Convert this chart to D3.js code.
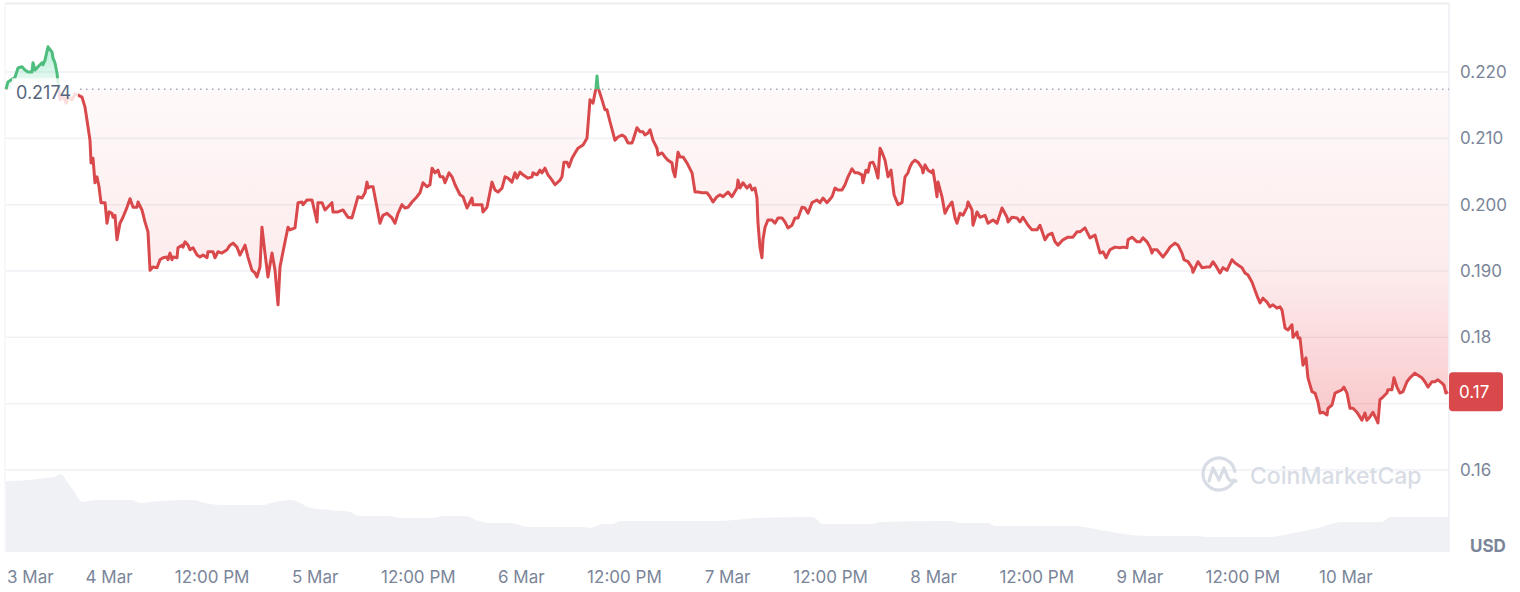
<!DOCTYPE html>
<html><head><meta charset="utf-8">
<script src="https://cdn.jsdelivr.net/npm/d3@7"></script>
<style>
html,body{margin:0;padding:0;background:#fff;}
svg{display:block;font-family:Inter,"Noto Sans",sans-serif;}
</style></head><body>
<svg id="chart" width="1520" height="592"></svg>
<script>
// ---------- data ----------
const startTime = "2025-03-03T12:00:00Z";
const endTime = "2025-03-10T12:00:00Z";
const referencePrice = 0.2174;
const currency = "USD";
const watermark = "CoinMarketCap";

const hoursFromStart = [0,0.23,1.05,1.40,1.86,2.21,2.56,3.03,3.14,3.38,3.73,4.19,4.31,4.54,4.89,5.36,5.47,5.70,5.94,6.29,6.64,6.99,7.33,7.68,8.03,8.38,8.85,9.20,9.55,9.78,9.90,10.13,10.36,10.59,10.83,11.06,11.53,11.76,11.99,12.34,12.46,12.69,12.92,13.27,13.62,14.09,14.44,14.79,15.25,15.37,15.83,16.18,16.53,16.77,17.11,17.58,17.93,18.28,18.74,18.86,19.09,19.33,19.44,19.91,20.02,20.49,20.61,20.84,21.19,21.42,21.77,22.24,22.59,22.94,23.40,23.52,24.10,24.33,24.68,25.15,25.73,26.08,26.43,26.89,27.24,27.83,28.17,28.64,28.99,29.22,29.57,29.80,30.15,30.50,30.97,31.32,31.67,31.90,32.25,32.83,33.06,33.65,34.00,34.46,34.58,35.04,35.63,36.21,36.32,36.79,37.14,37.95,38.07,38.65,39.23,39.82,40.28,40.63,40.98,41.45,41.80,42.03,42.15,42.38,42.73,43.19,43.54,43.89,44.36,44.94,45.29,45.64,46.10,46.45,46.80,47.27,47.85,48.20,48.55,49.01,49.36,49.60,49.95,50.30,50.53,50.88,51.11,51.58,51.93,52.28,52.86,53.21,53.67,54.25,54.37,54.95,55.42,55.53,56.00,56.58,56.93,57.28,57.75,58.10,58.44,58.91,59.26,59.49,59.84,60.19,60.77,61.24,61.35,61.82,62.17,62.40,62.75,63.10,63.57,63.92,64.50,64.73,64.96,65.31,65.55,65.90,66.25,66.59,67.18,67.64,67.99,68.23,68.34,68.69,68.81,68.92,69.39,69.74,69.97,70.32,70.90,71.25,71.72,72.07,72.42,72.88,73.00,73.46,73.81,74.16,74.39,74.74,74.98,75.33,75.79,75.91,76.37,76.72,77.07,77.54,77.65,77.89,78.24,78.47,78.82,79.28,79.87,80.22,80.57,81.03,81.61,81.96,82.31,82.78,83.13,83.48,84.06,84.52,85.11,85.22,85.46,85.80,86.27,86.62,86.85,87.20,87.43,87.55,87.78,88.01,88.13,88.37,88.71,89.18,89.53,89.88,90.34,90.69,91.04,91.51,91.86,92.21,92.67,93.02,93.37,93.84,94.42,94.77,95.12,95.58,96.17,96.52,96.86,97.33,97.68,98.03,98.49,98.84,99.19,99.66,99.77,100.12,100.36,100.59,100.94,101.17,101.52,101.76,101.99,102.34,102.69,103.04,103.39,103.85,104.32,104.67,105.01,105.25,105.48,105.83,106.18,106.65,106.76,107.00,107.35,107.81,107.93,108.16,108.39,108.51,108.97,109.32,109.67,110.14,110.49,110.72,111.07,111.42,111.88,112.00,112.47,112.58,113.05,113.40,113.98,114.33,114.91,115.38,115.96,116.54,116.66,117.12,117.71,118.05,118.40,118.99,119.45,120.03,120.38,120.96,121.31,121.78,122.13,122.48,123.06,123.64,124.22,124.69,125.04,125.62,126.20,126.79,127.37,127.72,128.07,128.53,129.11,129.70,130.05,130.51,130.63,131.09,131.68,132.03,132.37,132.84,133.19,133.42,133.54,134.00,134.70,135.17,135.52,136.10,136.45,136.91,137.15,137.61,138.08,138.19,138.78,139.24,139.83,140.17,140.52,140.99,141.34,141.69,142.15,142.74,143.09,143.43,143.90,144.25,144.60,145.07,145.41,145.76,146.00,146.34,146.81,147.16,147.51,147.97,148.32,148.56,148.91,149.25,149.72,149.84,150.30,150.42,150.65,151.00,151.35,151.58,152.05,152.40,152.75,152.98,153.33,153.80,153.91,154.38,154.73,155.08,155.54,155.77,156.12,156.47,156.82,157.28,157.63,157.86,158.21,158.44,158.79,159.14,159.49,159.73,159.96,160.31,160.77,160.89,161.36,161.59,161.94,162.29,162.64,163.10,163.45,164.03,164.38,164.85,165.20,165.55,166.01,166.36,166.71,167.18,167.41,167.64,167.88];

const priceUSD = [0.2174,0.2185,0.2192,0.2206,0.2208,0.2203,0.2200,0.2200,0.2214,0.2203,0.2208,0.2214,0.2211,0.2218,0.2238,0.2230,0.2221,0.2214,0.2198,0.2158,0.2165,0.2153,0.2162,0.2158,0.2167,0.2165,0.2162,0.2147,0.2117,0.2097,0.2063,0.2070,0.2033,0.2042,0.2027,0.2003,0.2003,0.1972,0.1989,0.1987,0.1981,0.1984,0.1947,0.1972,0.1981,0.1996,0.2009,0.1996,0.1996,0.2004,0.1992,0.1974,0.1959,0.1901,0.1906,0.1905,0.1917,0.1920,0.1921,0.1917,0.1927,0.1917,0.1921,0.1920,0.1935,0.1939,0.1936,0.1944,0.1939,0.1932,0.1935,0.1924,0.1921,0.1924,0.1920,0.1929,0.1929,0.1920,0.1929,0.1927,0.1932,0.1939,0.1942,0.1936,0.1924,0.1939,0.1921,0.1901,0.1897,0.1891,0.1906,0.1966,0.1927,0.1891,0.1927,0.1901,0.1849,0.1906,0.1929,0.1966,0.1962,0.1965,0.2003,0.2004,0.2000,0.2007,0.2007,0.1974,0.2003,0.2003,0.1992,0.2003,0.1989,0.1989,0.1992,0.1981,0.1980,0.1996,0.2012,0.2010,0.2018,0.2034,0.2025,0.2027,0.2027,0.1996,0.1972,0.1984,0.1987,0.1980,0.1972,0.1987,0.2000,0.1995,0.1996,0.2004,0.2012,0.2018,0.2033,0.2027,0.2030,0.2055,0.2048,0.2052,0.2042,0.2042,0.2033,0.2048,0.2042,0.2030,0.2015,0.2012,0.1995,0.2010,0.2000,0.2000,0.2000,0.1989,0.1996,0.2034,0.2022,0.2019,0.2025,0.2042,0.2040,0.2034,0.2048,0.2040,0.2049,0.2045,0.2040,0.2042,0.2048,0.2045,0.2052,0.2048,0.2055,0.2045,0.2037,0.2030,0.2037,0.2042,0.2064,0.2064,0.2057,0.2070,0.2078,0.2085,0.2090,0.2100,0.2158,0.2155,0.2153,0.2176,0.2194,0.2177,0.2158,0.2143,0.2143,0.2125,0.2097,0.2102,0.2105,0.2102,0.2093,0.2093,0.2097,0.2116,0.2110,0.2110,0.2105,0.2108,0.2113,0.2097,0.2085,0.2075,0.2078,0.2072,0.2067,0.2063,0.2052,0.2042,0.2079,0.2072,0.2072,0.2063,0.2048,0.2019,0.2019,0.2018,0.2018,0.2012,0.2004,0.2012,0.2015,0.2012,0.2019,0.2012,0.2025,0.2037,0.2025,0.2033,0.2025,0.2030,0.2022,0.2025,0.2010,0.1972,0.1936,0.1920,0.1947,0.1966,0.1977,0.1977,0.1972,0.1980,0.1980,0.1974,0.1965,0.1969,0.1980,0.1980,0.1996,0.1995,0.1987,0.2003,0.2007,0.2003,0.2010,0.2003,0.2012,0.2025,0.2022,0.2022,0.2030,0.2042,0.2054,0.2048,0.2048,0.2045,0.2033,0.2052,0.2049,0.2063,0.2064,0.2057,0.2040,0.2085,0.2079,0.2067,0.2042,0.2052,0.2015,0.2000,0.2003,0.2042,0.2048,0.2057,0.2063,0.2067,0.2064,0.2055,0.2048,0.2060,0.2052,0.2048,0.2052,0.2033,0.2012,0.2034,0.2012,0.1987,0.1996,0.2004,0.1980,0.1972,0.1987,0.1984,0.1996,0.2004,0.1992,0.1969,0.1989,0.1981,0.1984,0.1972,0.1977,0.1972,0.1995,0.1981,0.1974,0.1981,0.1980,0.1974,0.1981,0.1969,0.1962,0.1962,0.1969,0.1947,0.1954,0.1957,0.1944,0.1939,0.1947,0.1951,0.1951,0.1959,0.1959,0.1965,0.1950,0.1954,0.1927,0.1929,0.1920,0.1932,0.1936,0.1935,0.1936,0.1935,0.1947,0.1951,0.1944,0.1944,0.1950,0.1944,0.1936,0.1927,0.1932,0.1932,0.1921,0.1929,0.1936,0.1942,0.1939,0.1927,0.1917,0.1914,0.1905,0.1898,0.1914,0.1905,0.1906,0.1906,0.1914,0.1905,0.1897,0.1905,0.1901,0.1917,0.1912,0.1909,0.1905,0.1897,0.1894,0.1883,0.1871,0.1859,0.1852,0.1859,0.1853,0.1846,0.1849,0.1844,0.1846,0.1841,0.1814,0.1811,0.1819,0.1800,0.1808,0.1799,0.1799,0.1758,0.1769,0.1739,0.1718,0.1716,0.1702,0.1686,0.1687,0.1683,0.1693,0.1698,0.1716,0.1718,0.1721,0.1725,0.1716,0.1693,0.1693,0.1687,0.1680,0.1675,0.1686,0.1675,0.1680,0.1687,0.1678,0.1671,0.1706,0.1710,0.1716,0.1721,0.1721,0.1739,0.1725,0.1716,0.1718,0.1733,0.1739,0.1746,0.1743,0.1739,0.1733,0.1725,0.1733,0.1733,0.1736,0.1731,0.1728,0.1716,0.1718];

const volumeHours = [0,2.79,4.54,5.70,6.40,6.99,7.80,8.96,10.36,14.55,15.72,16.77,21.89,23.05,25.26,29.80,31.32,33.18,35.51,37.72,40.05,41.10,44.47,45.87,49.60,51.11,53.55,54.72,56.35,58.68,60.89,67.18,67.99,69.39,70.55,71.60,82.89,87.43,93.95,95.12,100.82,101.76,109.90,111.07,114.33,115.14,124.46,127.37,132.96,138.66,139.83,147.16,149.95,152.75,155.54,160.08,161.24,168];
const volumeUSDm = [35.5,36,37,37.5,39,36,31,25,26,26,24.5,25,26,24.5,23.5,23.5,25,26,22,21,20,18,18,17,17,18,18,16,14.5,14.5,12.5,12.5,12,14,14,15.5,15.5,17,17.5,14,14,15,15.5,14.5,14.5,13,13,11,8,8,7.5,7.5,9.5,12,15,15,17.5,17.5];

const yTickValues = [0.16,0.17,0.18,0.19,0.20,0.21,0.22];
const yTickLabels = ["0.16","0.17","0.18","0.190","0.200","0.210","0.220"];
const xTickLabels = ["4 Mar","12:00 PM","5 Mar","12:00 PM","6 Mar","12:00 PM","7 Mar","12:00 PM","8 Mar","12:00 PM","9 Mar","12:00 PM","10 Mar"];
const firstDateLabel = "3 Mar";

// ---------- chart ----------
const svg = d3.select("#chart");
const t0 = new Date(startTime), t1 = new Date(endTime);
const toDate = h => new Date(t0.getTime() + h * 3600e3);

const x = d3.scaleUtc().domain([t0, t1]).range([6, 1449]);
const y = d3.scaleLinear().domain([0.16, 0.22]).range([470, 72]);
const yv = d3.scaleLinear().domain([0, 40]).range([552, 472]);

const priceData = hoursFromStart.map((h, i) => ({t: toDate(h), p: priceUSD[i]}));
const volData = volumeHours.map((h, i) => ({t: toDate(h), v: volumeUSDm[i]}));

const RED = "#d9484b", GREEN = "#4fbd7d";
const yRef = y(referencePrice);
const pMin = d3.min(priceUSD), pMax = d3.max(priceUSD);
const last = priceData[priceData.length - 1];
const yLast = y(last.p);

const defs = svg.append("defs");
const gr = defs.append("linearGradient").attr("id", "gRed").attr("gradientUnits", "userSpaceOnUse")
  .attr("x1", 0).attr("x2", 0).attr("y1", yRef).attr("y2", y(pMin));
gr.append("stop").attr("offset", 0).attr("stop-color", "#ea3943").attr("stop-opacity", 0.03);
gr.append("stop").attr("offset", 0.55).attr("stop-opacity", 0.1).attr("stop-color", "#ea3943");
gr.append("stop").attr("offset", 1).attr("stop-color", "#ea3943").attr("stop-opacity", 0.28);
const gg = defs.append("linearGradient").attr("id", "gGreen").attr("gradientUnits", "userSpaceOnUse")
  .attr("x1", 0).attr("x2", 0).attr("y1", y(pMax)).attr("y2", yRef);
gg.append("stop").attr("offset", 0).attr("stop-color", "#16c784").attr("stop-opacity", 0.3);
gg.append("stop").attr("offset", 1).attr("stop-color", "#16c784").attr("stop-opacity", 0.06);

defs.append("clipPath").attr("id", "cAbove").append("rect")
  .attr("x", 0).attr("y", 0).attr("width", 1449).attr("height", yRef);
defs.append("clipPath").attr("id", "cBelow").append("rect")
  .attr("x", 0).attr("y", yRef).attr("width", 1449).attr("height", 552 - yRef);

// grid
const gridColor = "#eff1f4";
svg.append("g").selectAll("line").data(yTickValues).join("line")
  .attr("x1", 6).attr("x2", 1449).attr("y1", d => y(d)).attr("y2", d => y(d))
  .attr("stroke", gridColor).attr("stroke-width", 1.5);
// frame
svg.append("line").attr("x1", 5).attr("x2", 1449).attr("y1", 3.5).attr("y2", 3.5).attr("stroke", "#eceef2").attr("stroke-width", 2);
svg.append("line").attr("x1", 5).attr("x2", 5).attr("y1", 3.5).attr("y2", 552).attr("stroke", "#eff1f4").attr("stroke-width", 1);
svg.append("line").attr("x1", 1449).attr("x2", 1449).attr("y1", 3.5).attr("y2", 552).attr("stroke", "#eceef2").attr("stroke-width", 1.5);

// volume
svg.append("path").datum(volData)
  .attr("d", d3.area().x(d => x(d.t)).y0(552).y1(d => yv(d.v)).curve(d3.curveMonotoneX))
  .attr("fill", "#f0f1f5");

// watermark
const wm = svg.append("g").attr("fill", "none").attr("stroke", "#d8dce5").attr("stroke-width", 3.2).attr("stroke-linecap", "round").attr("stroke-linejoin", "round");
wm.append("path").attr("d", d3.arc()({innerRadius: 16, outerRadius: 16, startAngle: Math.PI * 0.62, endAngle: Math.PI * 2.45})).attr("transform", "translate(1219,474)");
wm.append("path").attr("d", "M1209,481 L1213,468 L1219,480 L1224,468 L1228,478 Q1231,483 1236,481");
svg.append("text").attr("x", 1250).attr("y", 484).text(watermark)
  .attr("font-size", 23).attr("font-weight", 500).attr("fill", "#d8dce5");

// areas
const area = d3.area().x(d => x(d.t)).y0(yRef).y1(d => y(d.p));
svg.append("path").datum(priceData).attr("d", area).attr("fill", "url(#gGreen)").attr("clip-path", "url(#cAbove)");
svg.append("path").datum(priceData).attr("d", area).attr("fill", "url(#gRed)").attr("clip-path", "url(#cBelow)");

// reference dotted line
svg.append("line").attr("x1", 80).attr("x2", 1449).attr("y1", yRef).attr("y2", yRef)
  .attr("stroke", "#a3a9b4").attr("stroke-width", 1.5).attr("stroke-dasharray", "1.5 4.5");

// lines
const line = d3.line().x(d => x(d.t)).y(d => y(d.p));
svg.append("path").datum(priceData).attr("d", line).attr("fill", "none").attr("stroke", GREEN)
  .attr("stroke-width", 3).attr("stroke-linejoin", "round").attr("clip-path", "url(#cAbove)");
svg.append("path").datum(priceData).attr("d", line).attr("fill", "none").attr("stroke", RED)
  .attr("stroke-width", 3).attr("stroke-linejoin", "round").attr("clip-path", "url(#cBelow)");

// reference label
svg.append("rect").attr("x", 12).attr("y", yRef - 11).attr("width", 66).attr("height", 28)
  .attr("fill", "#fff").attr("fill-opacity", 0.82);
svg.append("text").attr("x", 16).attr("y", yRef + 3).attr("dy", "0.35em").text(d3.format(".4f")(referencePrice))
  .attr("font-size", 18).attr("fill", "#58667e");

// y labels (the one under the last-price badge is hidden, as in the reference)
const labelColor = "#7a8599";
const yLabelIdx = yTickValues.map((d, i) => i).filter(i => Math.abs(y(yTickValues[i]) - yLast) > 20);
svg.append("g").selectAll("text").data(yLabelIdx).join("text")
  .attr("x", 1460).attr("y", i => y(yTickValues[i])).attr("dy", "0.35em")
  .text(i => yTickLabels[i]).attr("font-size", 17).attr("fill", labelColor);

// last price badge
svg.append("rect").attr("x", 1449).attr("y", yLast - 19.5).attr("width", 54).attr("height", 39)
  .attr("rx", 4).attr("fill", RED);
svg.append("text").attr("x", 1459).attr("y", yLast).attr("dy", "0.35em")
  .text(d3.format(".2f")(last.p)).attr("font-size", 17).attr("fill", "#fff");

// x labels
const tickTimes = d3.utcHour.every(12).range(new Date("2025-03-04T00:00:00Z"), t1);
svg.append("g").selectAll("text").data(tickTimes).join("text")
  .attr("x", d => x(d)).attr("y", 577).attr("dy", "0.35em").attr("text-anchor", "middle")
  .text((d, i) => xTickLabels[i]).attr("font-size", 17).attr("fill", labelColor);
svg.append("text").attr("x", 7).attr("y", 577).attr("dy", "0.35em").text(firstDateLabel)
  .attr("font-size", 17).attr("fill", labelColor);

// currency
svg.append("text").attr("x", 1470).attr("y", 546).attr("dy", "0.35em").text(currency)
  .attr("font-size", 17).attr("font-weight", 700).attr("fill", "#7a8599");
</script>
</body></html>
